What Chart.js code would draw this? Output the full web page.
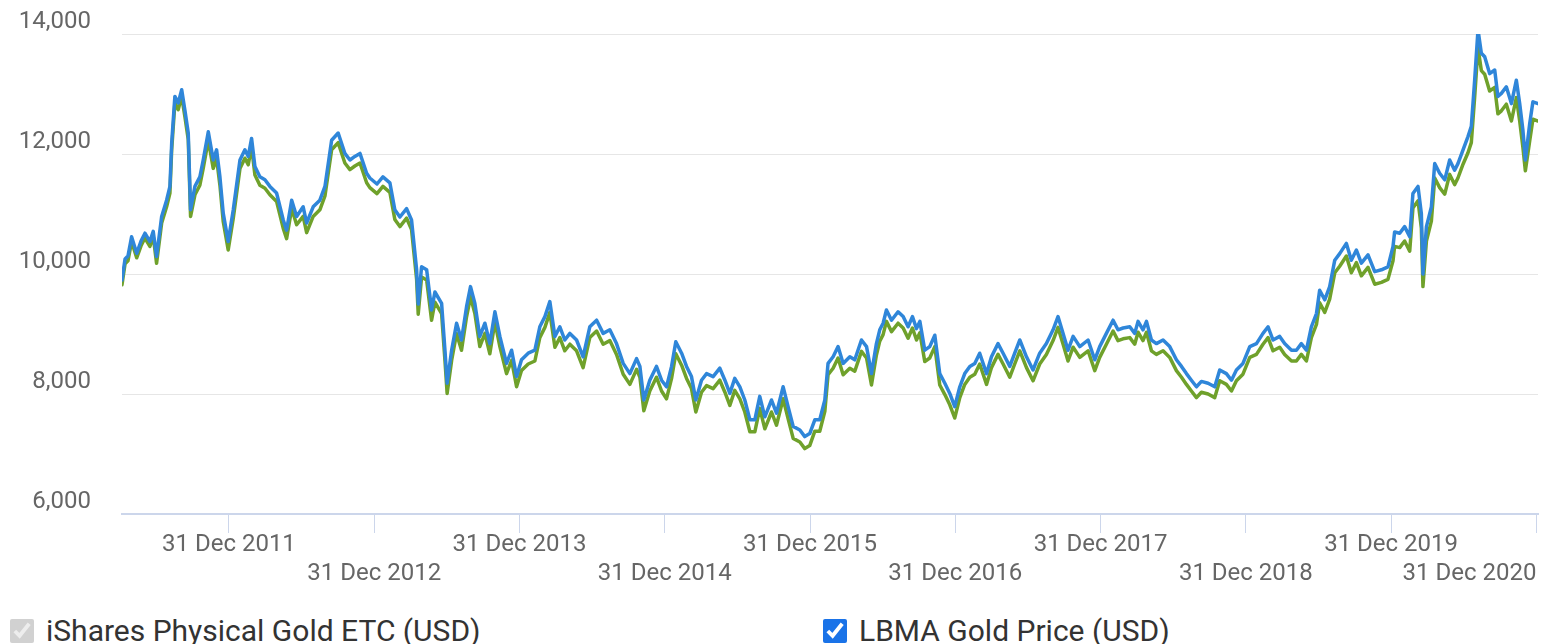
<!DOCTYPE html>
<html>
<head>
<meta charset="utf-8">
<script src="https://cdn.jsdelivr.net/npm/chart.js@4"></script>
<style>
  html, body { margin: 0; padding: 0; background: #fff; overflow: hidden; }
  #wrap { position: relative; width: 1542px; height: 644px; }
  canvas { position: absolute; left: 0; top: 0; }
  .item {
    position: absolute; top: 614px; height: 34px; line-height: 34px;
    display: flex; align-items: center;
    font-family: Roboto, sans-serif; font-size: 30px; color: #333; white-space: nowrap;
  }
  .item input { width: 24px; height: 24px; margin: 0 12px 0 0; accent-color: #1a73e8; }
</style>
</head>
<body>
<div id="wrap">
  <canvas id="grafico" width="1542" height="600"></canvas>
  <label class="item" style="left:10px"><input type="checkbox" checked disabled>iShares Physical Gold ETC (USD)</label>
  <label class="item" style="left:823px"><input type="checkbox" id="mostrarLbma" checked>LBMA Gold Price (USD)</label>
</div>
<script>
// decimal years
const datas = [
  2011.264, 2011.285, 2011.305, 2011.330, 2011.365, 2011.395, 2011.422, 2011.456, 2011.479, 2011.502,
  2011.537, 2011.571, 2011.594, 2011.606, 2011.628, 2011.651, 2011.675, 2011.697, 2011.720, 2011.736,
  2011.766, 2011.800, 2011.823, 2011.858, 2011.892, 2011.915, 2011.938, 2011.961, 2011.995, 2012.030,
  2012.076, 2012.110, 2012.133, 2012.156, 2012.179, 2012.213, 2012.248, 2012.282, 2012.328, 2012.374,
  2012.397, 2012.432, 2012.466, 2012.511, 2012.535, 2012.580, 2012.626, 2012.661, 2012.707, 2012.752,
  2012.798, 2012.833, 2012.867, 2012.902, 2012.948, 2012.970, 2013.019, 2013.060, 2013.108, 2013.142,
  2013.177, 2013.223, 2013.257, 2013.292, 2013.303, 2013.326, 2013.361, 2013.395, 2013.418, 2013.464,
  2013.487, 2013.502, 2013.533, 2013.567, 2013.601, 2013.636, 2013.663, 2013.693, 2013.727, 2013.762,
  2013.796, 2013.831, 2013.865, 2013.911, 2013.946, 2013.980, 2014.014, 2014.060, 2014.106, 2014.140,
  2014.175, 2014.209, 2014.244, 2014.278, 2014.312, 2014.347, 2014.393, 2014.438, 2014.484, 2014.531,
  2014.576, 2014.622, 2014.668, 2014.714, 2014.760, 2014.806, 2014.829, 2014.856, 2014.897, 2014.943,
  2014.978, 2015.012, 2015.047, 2015.076, 2015.116, 2015.150, 2015.184, 2015.214, 2015.253, 2015.288,
  2015.333, 2015.379, 2015.414, 2015.448, 2015.482, 2015.517, 2015.551, 2015.586, 2015.620, 2015.654,
  2015.689, 2015.735, 2015.769, 2015.815, 2015.849, 2015.884, 2015.930, 2015.964, 2015.998, 2016.033,
  2016.067, 2016.102, 2016.124, 2016.159, 2016.193, 2016.228, 2016.274, 2016.308, 2016.354, 2016.389,
  2016.423, 2016.457, 2016.480, 2016.503, 2016.526, 2016.561, 2016.606, 2016.641, 2016.675, 2016.705,
  2016.733, 2016.756, 2016.790, 2016.824, 2016.859, 2016.893, 2016.928, 2016.962, 2016.996, 2017.031,
  2017.065, 2017.100, 2017.134, 2017.168, 2017.215, 2017.249, 2017.294, 2017.329, 2017.375, 2017.409,
  2017.444, 2017.490, 2017.535, 2017.581, 2017.627, 2017.673, 2017.707, 2017.742, 2017.776, 2017.811,
  2017.857, 2017.914, 2017.960, 2017.994, 2018.040, 2018.086, 2018.120, 2018.155, 2018.201, 2018.235,
  2018.258, 2018.292, 2018.316, 2018.350, 2018.384, 2018.430, 2018.476, 2018.522, 2018.557, 2018.591,
  2018.625, 2018.660, 2018.694, 2018.740, 2018.786, 2018.820, 2018.866, 2018.901, 2018.935, 2018.980,
  2019.027, 2019.073, 2019.118, 2019.153, 2019.187, 2019.233, 2019.267, 2019.314, 2019.348, 2019.382,
  2019.417, 2019.451, 2019.486, 2019.508, 2019.543, 2019.577, 2019.612, 2019.646, 2019.692, 2019.726,
  2019.761, 2019.795, 2019.841, 2019.887, 2019.933, 2019.978, 2020.013, 2020.024, 2020.059, 2020.093,
  2020.128, 2020.150, 2020.185, 2020.208, 2020.219, 2020.243, 2020.277, 2020.300, 2020.334, 2020.369,
  2020.403, 2020.437, 2020.460, 2020.495, 2020.529, 2020.552, 2020.575, 2020.598, 2020.621, 2020.644,
  2020.678, 2020.713, 2020.735, 2020.759, 2020.793, 2020.828, 2020.862, 2020.885, 2020.907, 2020.924,
  2020.954, 2020.976, 2021.011
];

const lbma = [
  9900, 10250, 10300, 10620, 10345, 10550, 10680, 10540, 10710, 10290,
  10960, 11230, 11460, 12180, 12960, 12850, 13070, 12730, 12350, 11070,
  11460, 11620, 11900, 12370, 11900, 12070, 11620, 11010, 10540, 11070,
  11900, 12070, 11960, 12260, 11790, 11620, 11570, 11460, 11350, 10900,
  10730, 11230, 10960, 11120, 10850, 11120, 11230, 11460, 12230, 12350,
  12010, 11900, 11960, 12010, 11680, 11600, 11500, 11620, 11520, 11070,
  10950, 11090, 10900, 10070, 9500, 10120, 10070, 9400, 9700, 9510,
  8730, 8180, 8730, 9180, 8900, 9460, 9790, 9510, 8960, 9180,
  8840, 9370, 8960, 8510, 8730, 8290, 8570, 8680, 8730, 9120,
  9290, 9540, 8960, 9120, 8900, 9010, 8900, 8620, 9120, 9230,
  9010, 9070, 8840, 8510, 8340, 8590, 8460, 7900, 8230, 8460,
  8230, 8120, 8460, 8870, 8680, 8460, 8290, 7900, 8230, 8340,
  8290, 8430, 8230, 8010, 8260, 8120, 7900, 7570, 7570, 7960,
  7620, 7900, 7680, 8120, 7790, 7460, 7400, 7290, 7340, 7570,
  7570, 7900, 8510, 8620, 8790, 8510, 8620, 8570, 8900, 8790,
  8340, 8840, 9070, 9180, 9400, 9230, 9370, 9290, 9120, 9290,
  9090, 9210, 8730, 8790, 8980, 8340, 8180, 8010, 7790, 8120,
  8340, 8460, 8510, 8680, 8340, 8620, 8840, 8680, 8460, 8680,
  8900, 8620, 8400, 8680, 8840, 9070, 9290, 9010, 8730, 8960,
  8790, 8900, 8570, 8790, 9010, 9230, 9070, 9100, 9120, 9010,
  9210, 9070, 9210, 8900, 8840, 8900, 8790, 8570, 8460, 8340,
  8230, 8120, 8210, 8180, 8120, 8400, 8340, 8230, 8400, 8510,
  8790, 8840, 9010, 9120, 8900, 8960, 8840, 8730, 8730, 8840,
  8730, 9120, 9340, 9730, 9570, 9790, 10230, 10340, 10510, 10230,
  10400, 10180, 10320, 10040, 10070, 10120, 10460, 10700, 10680, 10790,
  10620, 11340, 11460, 11010, 10000, 10790, 11120, 11840, 11680, 11570,
  11900, 11730, 11840, 12070, 12290, 12460, 13230, 14070, 13680, 13620,
  13340, 13400, 12960, 13010, 13120, 12840, 13230, 12840, 12400, 11900,
  12510, 12870, 12840
];

const ishares = [
  9820, 10170, 10220, 10540, 10270, 10470, 10600, 10460, 10630, 10180,
  10850, 11120, 11350, 12070, 12850, 12740, 12960, 12620, 12240, 10960,
  11320, 11480, 11760, 12230, 11760, 11930, 11480, 10870, 10400, 10930,
  11760, 11930, 11820, 12120, 11650, 11480, 11430, 11320, 11210, 10760,
  10590, 11090, 10820, 10960, 10690, 10960, 11070, 11300, 12070, 12190,
  11850, 11740, 11800, 11850, 11520, 11440, 11340, 11460, 11360, 10910,
  10790, 10930, 10740, 9910, 9330, 9950, 9900, 9230, 9530, 9340,
  8560, 8010, 8560, 9010, 8730, 9290, 9620, 9340, 8790, 9010,
  8670, 9200, 8790, 8340, 8560, 8120, 8390, 8500, 8550, 8940,
  9110, 9360, 8780, 8940, 8720, 8830, 8720, 8440, 8940, 9050,
  8830, 8890, 8660, 8330, 8160, 8410, 8280, 7720, 8050, 8280,
  8050, 7920, 8260, 8670, 8480, 8260, 8090, 7700, 8030, 8140,
  8090, 8230, 8030, 7810, 8060, 7920, 7700, 7370, 7370, 7760,
  7420, 7700, 7480, 7920, 7590, 7260, 7200, 7090, 7140, 7380,
  7380, 7710, 8320, 8430, 8600, 8320, 8430, 8380, 8710, 8600,
  8150, 8650, 8880, 8990, 9210, 9040, 9180, 9100, 8930, 9100,
  8900, 9020, 8540, 8600, 8790, 8150, 7990, 7820, 7600, 7940,
  8160, 8280, 8330, 8500, 8160, 8440, 8660, 8500, 8280, 8500,
  8720, 8440, 8220, 8500, 8660, 8890, 9110, 8830, 8550, 8780,
  8610, 8720, 8390, 8610, 8830, 9050, 8890, 8920, 8940, 8830,
  9030, 8890, 9030, 8720, 8660, 8720, 8610, 8390, 8280, 8160,
  8050, 7940, 8030, 8000, 7940, 8220, 8160, 8050, 8220, 8330,
  8610, 8660, 8830, 8940, 8720, 8780, 8660, 8550, 8550, 8660,
  8550, 8940, 9160, 9520, 9360, 9580, 10020, 10130, 10300, 10020,
  10190, 9970, 10110, 9830, 9860, 9910, 10220, 10460, 10440, 10550,
  10380, 11100, 11220, 10770, 9790, 10550, 10880, 11600, 11440, 11330,
  11660, 11490, 11600, 11830, 12020, 12190, 12950, 13770, 13390, 13330,
  13050, 13110, 12670, 12720, 12830, 12550, 12940, 12550, 12110, 11720,
  12220, 12580, 12550
];

const valoresEixoY = [6000, 8000, 10000, 12000, 14000];
const valoresEixoX = [2012, 2013, 2014, 2015, 2016, 2017, 2018, 2019, 2020, 2021];
const rotulosEixoX = [
  "31 Dec 2011", "31 Dec 2012", "31 Dec 2013", "31 Dec 2014", "31 Dec 2015",
  "31 Dec 2016", "31 Dec 2017", "31 Dec 2018", "31 Dec 2019", "31 Dec 2020"
];

let grafico;

function pontos(serie) {
  return datas.map((d, i) => ({ x: d, y: serie[i] }));
}

function desenharGrafico() {
  const ctx = document.getElementById("grafico");
  const fonteEixo = { family: "Roboto", size: 24 };

  grafico = new Chart(ctx, {
    type: "line",
    data: {
      datasets: [
        {
          label: "iShares Physical Gold ETC (USD)",
          data: pontos(ishares),
          borderColor: "#6fa12b",
          borderWidth: 3.5,
          order: 2,
        },
        {
          label: "LBMA Gold Price (USD)",
          data: pontos(lbma),
          borderColor: "#2f86d9",
          borderWidth: 3.5,
          order: 1,
        },
      ],
    },
    options: {
      responsive: false,
      animation: false,
      elements: {
        point: { radius: 0 },
        line: { tension: 0, borderJoinStyle: "round", borderCapStyle: "round" },
      },
      layout: { padding: { top: 34, right: 4, left: 0, bottom: 0 } },
      plugins: { legend: { display: false }, tooltip: { enabled: false } },
      scales: {
        x: {
          type: "linear",
          min: datas[0],
          max: datas[datas.length - 1],
          afterBuildTicks: (scale) => {
            // first tick is an empty one at the left edge so the last label can sit inside
            scale.ticks = [{ value: datas[0] }].concat(valoresEixoX.map((v) => ({ value: v })));
          },
          afterFit: (scale) => {
            scale.paddingLeft = 0;
            scale.paddingRight = 0;
            scale.height = 86;
          },
          border: { color: "#ccd6eb", width: 2 },
          grid: {
            drawOnChartArea: false,
            drawTicks: true,
            tickLength: 19,
            tickWidth: 1,
            tickColor: (c) => (c.index === 0 ? "rgba(0,0,0,0)" : "#ccd6eb"),
          },
          ticks: {
            align: "inner",
            autoSkip: false,
            maxRotation: 0,
            padding: -2,
            color: "#666",
            font: fonteEixo,
            callback: (value, index) => {
              if (index === 0) return "";
              const rotulo = rotulosEixoX[index - 1];
              return (index - 1) % 2 === 0 ? rotulo : ["", rotulo];
            },
          },
        },
        y: {
          min: 6000,
          max: 14000,
          afterBuildTicks: (scale) => {
            scale.ticks = valoresEixoY.map((v) => ({ value: v }));
          },
          afterFit: (scale) => {
            scale.width = 122;
            scale.paddingTop = 0;
            scale.paddingBottom = 0;
          },
          border: { display: false },
          grid: { color: "#e6e6e6", lineWidth: 1, drawTicks: false },
          ticks: {
            padding: 31,
            labelOffset: -12,
            color: "#666",
            font: fonteEixo,
            callback: (v) => v.toLocaleString("en-US"),
          },
        },
      },
    },
  });
}

document.getElementById("mostrarLbma").addEventListener("change", (e) => {
  grafico.setDatasetVisibility(1, e.target.checked);
  grafico.update();
});

document.fonts.load("24px Roboto").then(desenharGrafico, desenharGrafico);
</script>
</body>
</html>
